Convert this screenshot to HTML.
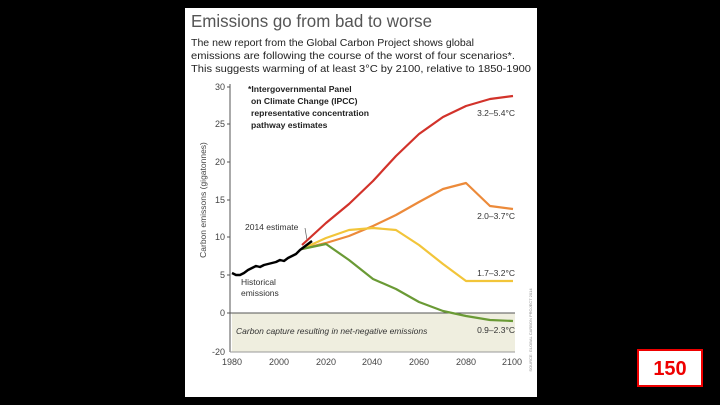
<!DOCTYPE html>
<html><head><meta charset="utf-8"><style>
html,body{margin:0;padding:0;background:#000;width:720px;height:405px;overflow:hidden}
svg{display:block}
text{font-family:"Liberation Sans",sans-serif}
</style></head><body>
<svg width="720" height="405" viewBox="0 0 720 405">
<rect x="0" y="0" width="720" height="405" fill="#000"/>
<rect x="185" y="8" width="352" height="389" fill="#fff"/>
<text x="191" y="27" font-size="17.5" fill="#555" textLength="241" lengthAdjust="spacingAndGlyphs">Emissions go from bad to worse</text>
<text x="191" y="46" font-size="10.2" fill="#222" textLength="283" lengthAdjust="spacingAndGlyphs">The new report from the Global Carbon Project shows global</text>
<text x="191" y="59" font-size="10.2" fill="#222" textLength="324" lengthAdjust="spacingAndGlyphs">emissions are following the course of the worst of four scenarios*.</text>
<text x="191" y="72" font-size="10.2" fill="#222" textLength="340" lengthAdjust="spacingAndGlyphs">This suggests warming of at least 3°C by 2100, relative to 1850-1900</text>
<rect x="232" y="313" width="283" height="39" fill="#efeedf"/>
<line x1="230" y1="84" x2="230" y2="352" stroke="#555" stroke-width="1"/>
<line x1="230" y1="313" x2="515" y2="313" stroke="#555" stroke-width="1"/>
<line x1="230" y1="352" x2="515" y2="352" stroke="#999" stroke-width="1"/>
<g font-size="9" fill="#444" text-anchor="end">
<text x="225" y="90">30</text><text x="225" y="127">25</text><text x="225" y="165">20</text>
<text x="225" y="203">15</text><text x="225" y="240">10</text><text x="225" y="278">5</text>
<text x="225" y="316">0</text><text x="225" y="355">-20</text>
</g>
<g stroke="#555"><line x1="227" y1="87" x2="230" y2="87"/><line x1="227" y1="124" x2="230" y2="124"/><line x1="227" y1="162" x2="230" y2="162"/><line x1="227" y1="200" x2="230" y2="200"/><line x1="227" y1="237" x2="230" y2="237"/><line x1="227" y1="275" x2="230" y2="275"/><line x1="227" y1="313" x2="230" y2="313"/></g>
<g font-size="9" fill="#444" text-anchor="middle">
<text x="232" y="365">1980</text><text x="279" y="365">2000</text><text x="326" y="365">2020</text>
<text x="372" y="365">2040</text><text x="419" y="365">2060</text><text x="466" y="365">2080</text><text x="512" y="365">2100</text>
</g>
<text transform="translate(206,200) rotate(-90)" font-size="8.5" fill="#444" text-anchor="middle">Carbon emissons (gigatonnes)</text>
<text transform="translate(532,330) rotate(-90)" font-size="4" fill="#888" text-anchor="middle">SOURCE: GLOBAL CARBON PROJECT 2014</text>
<g font-size="8.6" fill="#222" font-weight="bold">
<text x="248" y="92">*Intergovernmental Panel</text>
<text x="251" y="104">on Climate Change (IPCC)</text>
<text x="251" y="116">representative concentration</text>
<text x="251" y="128">pathway estimates</text>
</g>
<g font-size="8.5" fill="#333" text-anchor="end">
<text x="515" y="116">3.2–5.4°C</text>
<text x="515" y="219">2.0–3.7°C</text>
<text x="515" y="276">1.7–3.2°C</text>
<text x="515" y="333">0.9–2.3°C</text>
</g>
<text x="245" y="230" font-size="8.5" fill="#333">2014 estimate</text>
<line x1="305" y1="228" x2="307" y2="240" stroke="#555" stroke-width="0.7"/>
<text x="241" y="285" font-size="8.5" fill="#333">Historical</text>
<text x="241" y="296" font-size="8.5" fill="#333">emissions</text>
<text x="236" y="334" font-size="8.5" fill="#333" font-style="italic">Carbon capture resulting in net-negative emissions</text>
<g fill="none" stroke-width="2.2" stroke-linejoin="round">
<polyline stroke="#d2322a" points="302,245 326,223 349,204 373,181 396,156 419,134 443,117 466,106 490,99 513,96"/>
<polyline stroke="#ec8a3a" points="302,249 326,243 349,236 373,226 396,215 419,202 443,189 466,183 490,206 513,209"/>
<polyline stroke="#f2c53a" points="302,249 326,238 349,230 373,228 396,230 419,245 443,264 466,281 490,281 513,281"/>
<polyline stroke="#6a9a35" points="302,249 326,244 349,260 373,279 396,289 419,302 443,311 466,316 490,320 513,321"/>
<polyline stroke="#000" stroke-width="2.4" points="232,273 236,275 240,275 244,273 248,270 252,268 256,266 260,267 264,265 268,264 272,263 276,262 280,260 284,261 288,258 292,256 296,254 300,250 304,247 308,244 312,241"/>
</g>
<rect x="638" y="350" width="64" height="36" fill="#fff" stroke="#e00" stroke-width="2"/>
<text x="670" y="375" font-size="20" font-weight="bold" fill="#e00" text-anchor="middle">150</text>
</svg>
</body></html>
